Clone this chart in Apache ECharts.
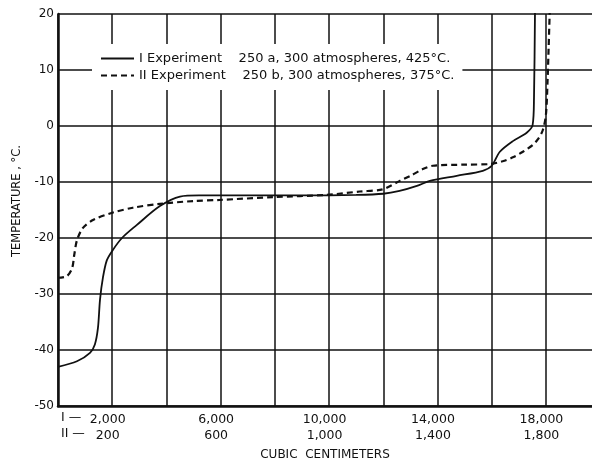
<!DOCTYPE html>
<html lang="en">

<head>
    <meta charset="UTF-8">
    <title>Temperature vs cubic centimeters</title>
    <script src="https://cdn.jsdelivr.net/npm/echarts@6/dist/echarts.min.js"></script>
    <style>
        html, body { margin: 0; padding: 0; background: #fff; }
        #main { width: 592px; height: 459px; }
    </style>
</head>

<body>
    <div id="main"></div>

    <script>
        // Experiment I volumes (cc) and temperatures (deg C)
        var expICc = [0, 700, 1180, 1360, 1475, 1550, 1660, 1800, 2000, 2360, 2900, 3760, 4500, 5200, 7000, 9000,
            11000, 12000, 12600, 13240, 13720, 14710, 15670, 16000, 16300, 16780, 17290, 17510, 17560, 17600]
        var expITemp = [-43, -42, -40.5, -39, -36, -31, -27, -24, -22.3, -20, -17.7, -14.3, -12.6, -12.4, -12.4, -12.4,
            -12.3, -12.1, -11.6, -10.7, -9.8, -8.9, -8.0, -7.1, -4.6, -2.7, -1.2, 0.2, 5, 22]

        // Experiment II volumes (cc, on the lower scale) and temperatures
        var expIICc = [0, 33, 52, 60, 70, 92, 129, 200, 276, 376, 500, 597, 793, 992, 1113, 1198, 1261, 1300,
            1346, 1383, 1500, 1593, 1640, 1678, 1715, 1751, 1770, 1788, 1800, 1806, 1810, 1815]
        var expIITemp = [-27.1, -26.8, -25.4, -23, -20.4, -18.2, -16.8, -15.5, -14.6, -13.9, -13.4, -13.2, -12.7, -12.3,
            -11.7, -11.3, -9.8, -8.9, -7.7, -7.1, -6.9, -6.8, -6.3, -5.6, -4.6, -3.4, -2.4, -0.8, 2, 8, 14, 22]

        // tick labels on the bottom axis (scale I / scale II)
        var tickI = { 2000: '2,000', 6000: '6,000', 10000: '10,000', 14000: '14,000', 18000: '18,000' }
        var tickII = { 2000: '200', 6000: '600', 10000: '1,000', 14000: '1,400', 18000: '1,800' }

        var seriesNames = ['I Experiment    250 a, 300 atmospheres, 425°C.', 'II Experiment    250 b, 300 atmospheres, 375°C.']

        var dataI = expICc.map(function (v, i) { return [v, expITemp[i]] })
        // scale II is one tenth of scale I
        var dataII = expIICc.map(function (v, i) { return [v * 10, expIITemp[i]] })

        var font = '"DejaVu Sans", sans-serif'
        var ink = '#111'

        var chart = echarts.init(document.getElementById('main'))
        var option = {
            animation: false,
            backgroundColor: '#fff',
            grid: { left: 58, right: 0, top: 14, bottom: 53, outerBoundsMode: 'none' },
            legend: {
                orient: 'vertical',
                left: 92,
                top: 44,
                padding: [8, 8, 8, 8],
                itemGap: 4,
                itemWidth: 33,
                itemHeight: 10,
                backgroundColor: '#fff',
                itemStyle: { opacity: 0 },
                textStyle: { fontFamily: font, fontSize: 13, color: ink },
                data: seriesNames
            },
            xAxis: {
                type: 'value',
                min: 0,
                max: 19700,
                interval: 2000,
                name: 'CUBIC  CENTIMETERS',
                nameLocation: 'middle',
                nameGap: 40,
                nameTextStyle: { fontFamily: font, fontSize: 12, color: ink },
                axisLine: { show: true, onZero: false, lineStyle: { color: ink, width: 2.5 } },
                axisTick: { show: false },
                splitLine: { show: true, showMaxLine: false, lineStyle: { color: ink, width: 1.5 } },
                axisLabel: {
                    fontFamily: font, fontSize: 12.5, color: ink, lineHeight: 16, margin: 6,
                    padding: [0, 9, 0, 0],
                    formatter: function (v) {
                        return tickI[v] ? tickI[v] + '\n' + tickII[v] : ''
                    }
                }
            },
            yAxis: {
                type: 'value',
                min: -50,
                max: 20,
                interval: 10,
                name: 'TEMPERATURE , °C.',
                nameLocation: 'middle',
                nameGap: 30,
                nameTextStyle: { fontFamily: font, fontSize: 11.5, color: ink, padding: [0, 0, 0, 18] },
                axisLine: { show: true, lineStyle: { color: ink, width: 2.5 } },
                axisTick: { show: false },
                splitLine: { show: true, lineStyle: { color: ink, width: 1.5 } },
                axisLabel: { fontFamily: font, fontSize: 12, color: ink, margin: 4 }
            },
            graphic: [
                { type: 'text', left: 61, top: 411, style: { text: 'I —', font: '12.5px ' + font, fill: ink } },
                { type: 'text', left: 61, top: 427, style: { text: 'II —', font: '12.5px ' + font, fill: ink } }
            ],
            series: [
                {
                    name: seriesNames[0],
                    type: 'line',
                    data: dataI,
                    symbol: 'circle',
                    showSymbol: false,
                    smooth: 0.3,
                    lineStyle: { color: ink, width: 1.8, type: 'solid' },
                    itemStyle: { color: ink }
                },
                {
                    name: seriesNames[1],
                    type: 'line',
                    data: dataII,
                    symbol: 'circle',
                    showSymbol: false,
                    smooth: 0.3,
                    lineStyle: { color: ink, width: 2.2, type: [6, 4] },
                    itemStyle: { color: ink }
                }
            ]
        }
        chart.setOption(option)
    </script>
</body>

</html>
